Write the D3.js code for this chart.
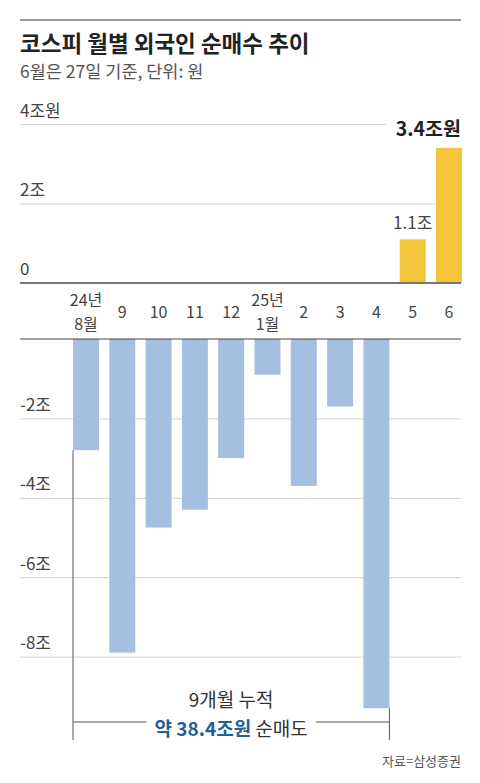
<!DOCTYPE html>
<html>
<head>
<meta charset="utf-8">
<script src="https://cdn.jsdelivr.net/npm/d3@7"></script>
<style>
  body { margin: 0; background: #fff; }
  svg { display: block; font-family: "Noto Sans CJK KR", "Noto Sans", sans-serif; }
</style>
</head>
<body>
<div id="chart"></div>
<script>
// months and net foreign buying (조원)
const months = ['24.08', '24.09', '24.10', '24.11', '24.12', '25.01', '25.02', '25.03', '25.04', '25.05', '25.06']
const monthLabels = [['24년', '8월'], ['9'], ['10'], ['11'], ['12'], ['25년', '1월'], ['2'], ['3'], ['4'], ['5'], ['6']]
const netBuy = [-2.8, -7.9, -4.75, -4.3, -3.0, -0.9, -3.7, -1.7, -9.3, 1.1, 3.4]
// cumulative net selling Aug-Apr as printed in the chart
const cumulativeSell = 38.4

const posTicks = [0, 2, 4]
const posTickLabels = ['0', '2조', '4조원']
const negTicks = [-2, -4, -6, -8]
const negTickLabels = ['-2조', '-4조', '-6조', '-8조']

const width = 480, height = 783
const left = 20, right = 461

const svg = d3.select('#chart').append('svg')
    .attr('width', width)
    .attr('height', height)

// top rule + titles
svg.append('line')
    .attr('x1', left).attr('x2', right)
    .attr('y1', 20).attr('y2', 20)
    .attr('stroke', '#9a9a9a').attr('stroke-width', 2)

svg.append('text')
    .attr('x', left).attr('y', 52)
    .attr('font-size', 22.5).attr('font-weight', 700)
    .attr('fill', '#222')
    .text('코스피 월별 외국인 순매수 추이')

svg.append('text')
    .attr('x', left).attr('y', 78)
    .attr('font-size', 17.5)
    .attr('fill', '#555')
    .text('6월은 27일 기준, 단위: 원')

// scales: the value axis is split in two panels around the month labels
let x = d3.scaleBand()
    .domain(months)
    .range([73, 462])
    .paddingInner(0.284)
    .paddingOuter(0)

let yTop = d3.scaleLinear().domain([0, 4]).range([283, 124])
let yBot = d3.scaleLinear().domain([0, -8]).range([339, 656.6])

// gridlines + tick labels, top panel
let topAxis = svg.append('g')
    .attr('transform', `translate(${left},0)`)
    .call(d3.axisRight(yTop)
        .tickValues(posTicks.filter(d => d != 0))
        .tickSize(right - left)
        .tickFormat(d => posTickLabels[posTicks.indexOf(d)]))
topAxis.select('.domain').remove()
topAxis.selectAll('line').attr('stroke', '#cfcfcf')
topAxis.selectAll('text')
    .attr('x', 0).attr('dy', -8)
    .attr('text-anchor', 'start')
    .attr('font-size', 17).attr('fill', '#444')
    .attr('font-family', '"Noto Sans CJK KR", sans-serif')

svg.append('text')
    .attr('x', left).attr('y', yTop(0) - 8)
    .attr('font-size', 17).attr('fill', '#444')
    .text(posTickLabels[0])

// gridlines + tick labels, bottom panel
let botAxis = svg.append('g')
    .attr('transform', `translate(${left},0)`)
    .call(d3.axisRight(yBot)
        .tickValues(negTicks)
        .tickSize(right - left)
        .tickFormat(d => negTickLabels[negTicks.indexOf(d)]))
botAxis.select('.domain').remove()
botAxis.selectAll('line').attr('stroke', '#cfcfcf')
botAxis.selectAll('text')
    .attr('x', 0).attr('dy', -8)
    .attr('text-anchor', 'start')
    .attr('font-size', 17).attr('fill', '#444')
    .attr('font-family', '"Noto Sans CJK KR", sans-serif')

// bars
let posData = months.map((m, i) => ({m: m, v: netBuy[i]})).filter(d => d.v > 0)
let negData = months.map((m, i) => ({m: m, v: netBuy[i]})).filter(d => d.v < 0)

svg.selectAll('.posbar')
    .data(posData)
    .enter().append('rect')
    .attr('class', 'posbar')
    .attr('x', d => x(d.m))
    .attr('width', x.bandwidth())
    .attr('y', d => yTop(d.v))
    .attr('height', d => yTop(0) - yTop(d.v))
    .attr('fill', '#f3c53a')

svg.selectAll('.negbar')
    .data(negData)
    .enter().append('rect')
    .attr('class', 'negbar')
    .attr('x', d => x(d.m))
    .attr('width', x.bandwidth())
    .attr('y', yBot(0))
    .attr('height', d => yBot(d.v) - yBot(0))
    .attr('fill', '#a5bfe0')

// zero lines
svg.append('line')
    .attr('x1', left).attr('x2', right)
    .attr('y1', yTop(0)).attr('y2', yTop(0))
    .attr('stroke', '#777').attr('stroke-width', 2)
svg.append('line')
    .attr('x1', left).attr('x2', right)
    .attr('y1', yBot(0)).attr('y2', yBot(0))
    .attr('stroke', '#444').attr('stroke-width', 1)

// month labels between the two panels
let xAxis = svg.append('g')
    .attr('transform', `translate(0,${yTop(0)})`)
    .call(d3.axisBottom(x).tickSize(0).tickFormat(''))
xAxis.select('.domain').remove()
xAxis.selectAll('.tick').each(function(d, i) {
    let lines = monthLabels[i]
    let t = d3.select(this).append('text')
        .attr('text-anchor', 'middle')
        .attr('font-size', 16).attr('fill', '#444')
        .attr('font-family', '"Noto Sans CJK KR", sans-serif')
    if (lines.length == 1) {
        t.append('tspan').attr('x', 0).attr('y', 35).text(lines[0])
    } else {
        t.append('tspan').attr('x', 0).attr('y', 23).text(lines[0])
        t.append('tspan').attr('x', 0).attr('y', 47).text(lines[1])
    }
})

// value labels on the two positive months
let lab5 = posData[0], lab6 = posData[1]
svg.append('text')
    .attr('x', x(lab5.m) + x.bandwidth() / 2)
    .attr('y', yTop(lab5.v) - 10)
    .attr('text-anchor', 'middle')
    .attr('font-size', 17).attr('fill', '#444')
    .text(lab5.v.toFixed(1) + '조')

let big = svg.append('text')
    .attr('x', right)
    .attr('y', yTop(lab6.v) - 12)
    .attr('text-anchor', 'end')
    .attr('font-size', 19.5).attr('font-weight', 700).attr('fill', '#222')
    .text(lab6.v.toFixed(1) + '조원')
let bb = big.node().getBBox()
svg.insert('rect', function() { return big.node() })
    .attr('x', bb.x - 10).attr('y', bb.y)
    .attr('width', bb.width + 10).attr('height', bb.height)
    .attr('fill', '#fff')

// cumulative bracket under the 9 selling months
let firstNeg = negData[0], lastNeg = negData[negData.length - 1]
let bx1 = x(firstNeg.m), bx2 = x(lastNeg.m) + x.bandwidth()
let bracketY = 722, bracketEnd = 740

svg.append('line')
    .attr('x1', bx1).attr('x2', bx1)
    .attr('y1', yBot(firstNeg.v)).attr('y2', bracketEnd)
    .attr('stroke', '#555')
svg.append('line')
    .attr('x1', bx2).attr('x2', bx2)
    .attr('y1', yBot(lastNeg.v)).attr('y2', bracketEnd)
    .attr('stroke', '#555')

let cx = (bx1 + bx2) / 2
svg.append('text')
    .attr('x', cx).attr('y', 707)
    .attr('text-anchor', 'middle')
    .attr('font-size', 19).attr('fill', '#333')
    .text(negData.length + '개월 누적')

let sumText = svg.append('text')
    .attr('x', cx).attr('y', 736)
    .attr('text-anchor', 'middle')
    .attr('font-size', 19).attr('fill', '#333')
sumText.append('tspan')
    .attr('font-weight', 700).attr('fill', '#1f5f9a')
    .text('약 ' + cumulativeSell.toFixed(1) + '조원')
sumText.append('tspan').text(' 순매도')

let sb = sumText.node().getBBox()
svg.append('line')
    .attr('x1', bx1).attr('x2', sb.x - 8)
    .attr('y1', bracketY).attr('y2', bracketY)
    .attr('stroke', '#555')
svg.append('line')
    .attr('x1', sb.x + sb.width + 8).attr('x2', bx2)
    .attr('y1', bracketY).attr('y2', bracketY)
    .attr('stroke', '#555')

// source
svg.append('text')
    .attr('x', right).attr('y', 766)
    .attr('text-anchor', 'end')
    .attr('font-size', 13).attr('fill', '#555')
    .text('자료=삼성증권')
</script>
</body>
</html>
